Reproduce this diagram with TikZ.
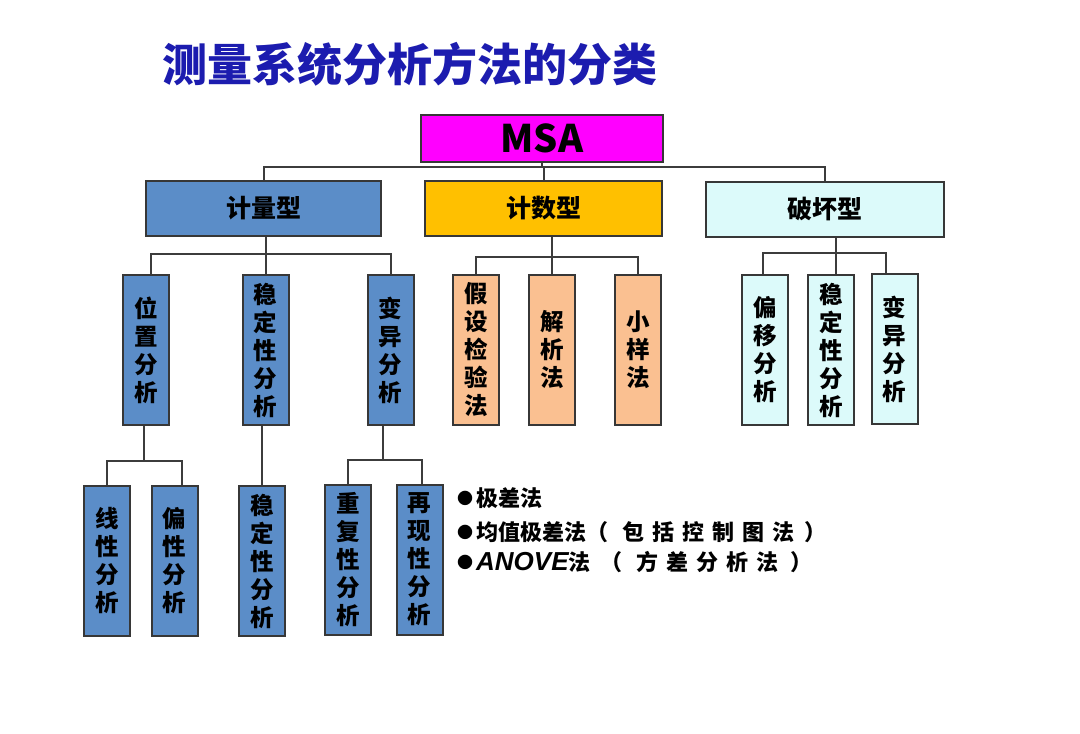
\documentclass[tikz,border=0pt]{standalone}
\usepackage{fontspec}
\setmainfont{Noto Sans CJK SC}
\newfontfamily\latinf{Liberation Sans}
\definecolor{boxline}{RGB}{55,55,55}
\definecolor{lineclr}{RGB}{60,60,60}
\definecolor{titleblue}{RGB}{28,28,175}
\definecolor{msamag}{RGB}{255,0,255}
\definecolor{vblue}{RGB}{91,141,200}
\definecolor{goldy}{RGB}{255,192,0}
\definecolor{lcyan}{RGB}{220,250,250}
\definecolor{peach}{RGB}{250,192,145}
\newcommand\wsp{\hspace{8pt}}
\newcommand\bdot{\raisebox{2pt}{\fontsize{16}{16}\selectfont ●}\hspace{3pt}}
\begin{document}
\begin{tikzpicture}[x=1pt,y=-1pt,
  box/.style={draw=boxline, line width=2pt, inner sep=0pt, align=center,
              font=\bfseries\fontsize{23.5}{28}\selectfont},
  vbox/.style={box, minimum width=46pt, minimum height=150pt},
  hbox/.style={box, minimum height=55pt, font=\bfseries\fontsize{25}{28}\selectfont},
  conn/.style={draw=lineclr, line width=2pt},
  bullet/.style={anchor=west, inner sep=0pt, font=\bfseries\fontsize{22}{25}\selectfont}]
\fill[white] (0,0) rectangle (1080,734);
\useasboundingbox (0,0) rectangle (1080,734);

% title
\node[font=\bfseries\fontsize{45}{50}\selectfont, text=titleblue] (title) at (410,64) {测量系统分析方法的分类};

% level 1
\node[box, fill=msamag, minimum width=242pt, minimum height=47pt,
      font=\bfseries\fontsize{38}{44}\selectfont] (msa) at (542,138) {MSA};

% level 2
\node[hbox, fill=vblue, minimum width=235pt] (jl) at (263.5,208.5) {计量型};
\node[hbox, fill=goldy, minimum width=237pt] (js) at (543.5,208.5) {计数型};
\node[hbox, fill=lcyan, minimum width=238pt] (ph) at (825,209) {破坏型};

% level 3
\node[vbox, fill=vblue] (wz) at (146,350) {位\\置\\分\\析};
\node[vbox, fill=vblue] (wd) at (265.5,350) {稳\\定\\性\\分\\析};
\node[vbox, fill=vblue] (by) at (390.5,350) {变\\异\\分\\析};
\node[vbox, fill=peach] (jy) at (476,350) {假\\设\\检\\验\\法};
\node[vbox, fill=peach] (jx) at (552,350) {解\\析\\法};
\node[vbox, fill=peach] (xy) at (638,350) {小\\样\\法};
\node[vbox, fill=lcyan] (py) at (765,350) {偏\\移\\分\\析};
\node[vbox, fill=lcyan] (wd2) at (831,350) {稳\\定\\性\\分\\析};
\node[vbox, fill=lcyan] (by2) at (894.5,349) {变\\异\\分\\析};

% level 4
\node[vbox, fill=vblue] (xx) at (107,561) {线\\性\\分\\析};
\node[vbox, fill=vblue] (px) at (174.5,561) {偏\\性\\分\\析};
\node[vbox, fill=vblue] (wd3) at (262,561) {稳\\定\\性\\分\\析};
\node[vbox, fill=vblue] (cf) at (348,559.5) {重\\复\\性\\分\\析};
\node[vbox, fill=vblue] (zx) at (419.5,559.5) {再\\现\\性\\分\\析};

% bus coordinates
\coordinate (bus1) at (0,167);
\coordinate (busa) at (0,254);
\coordinate (busb) at (0,257);
\coordinate (busc) at (0,253);
\coordinate (busd) at (0,461);
\coordinate (buse) at (0,460);

% level 1 -> 2
\draw[conn] (msa.south) -- (msa.south |- bus1);
\draw[conn] (jl.north) -- (jl.north |- bus1) -- (ph.north |- bus1) -- (ph.north);
\draw[conn] (js.north) -- (js.north |- bus1);

% 计量型 -> level 3
\draw[conn] (wd.north |- jl.south) -- (wd.north);
\draw[conn] ([xshift=5pt]wz.north) -- ([xshift=5pt]wz.north |- busa) -- (by.north |- busa) -- (by.north);

% 计数型 -> level 3
\draw[conn] (jx.north |- js.south) -- (jx.north);
\draw[conn] (jy.north) -- (jy.north |- busb) -- (xy.north |- busb) -- (xy.north);

% 破坏型 -> level 3
\draw[conn] ([xshift=5pt]wd2.north |- ph.south) -- ([xshift=5pt]wd2.north);
\draw[conn] ([xshift=-2pt]py.north) -- ([xshift=-2pt]py.north |- busc) -- ([xshift=-8.5pt]by2.north |- busc) -- ([xshift=-8.5pt]by2.north);

% level 3 -> 4
\draw[conn] ([xshift=-2pt]wz.south) -- ([xshift=-2pt]wz.south |- busd);
\draw[conn] (xx.north) -- (xx.north |- busd) -- ([xshift=7.5pt]px.north |- busd) -- ([xshift=7.5pt]px.north);
\draw[conn] (wd3.north |- wd.south) -- (wd3.north);
\draw[conn] ([xshift=-7.5pt]by.south) -- ([xshift=-7.5pt]by.south |- buse);
\draw[conn] (cf.north) -- (cf.north |- buse) -- ([xshift=2.5pt]zx.north |- buse) -- ([xshift=2.5pt]zx.north);

% bullet list
\node[bullet] (l1) at (457,498) {\bdot 极差法};
\node[bullet] (l2) at (457,532) {\bdot 均值极差法（\hspace{14pt}包\wsp{}括\wsp{}控\wsp{}制\wsp{}图\wsp{}法\hspace{10pt}）};
\node[bullet] (l3) at (457,562) {\bdot{\latinf\bfseries\itshape\fontsize{26}{28}\selectfont ANOVE}法\hspace{10pt}（\hspace{14pt}方\wsp{}差\wsp{}分\wsp{}析\wsp{}法\hspace{12pt}）};
\end{tikzpicture}
\end{document}
